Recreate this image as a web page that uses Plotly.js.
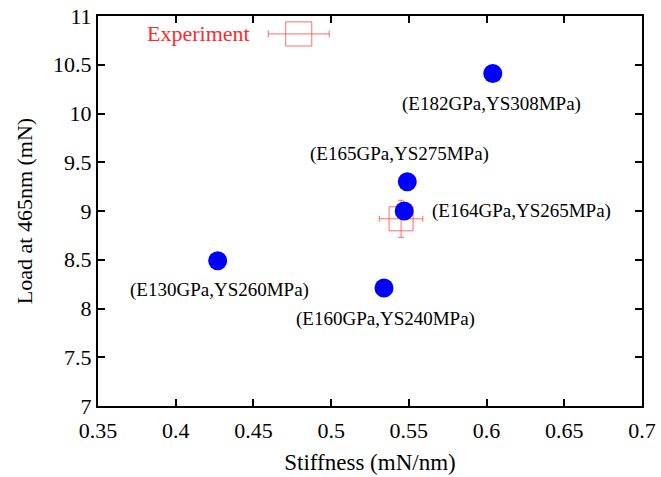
<!DOCTYPE html>
<html><head><meta charset="utf-8">
<script src="https://cdn.plot.ly/plotly-3.0.1.min.js"></script>
<style>html,body{margin:0;padding:0;background:#fff}#chart{width:661px;height:477px}</style>
</head><body><div id="chart"></div>
<script>
// Simulation results
const simLabels = ["(E182GPa,YS308MPa)","(E165GPa,YS275MPa)","(E164GPa,YS265MPa)","(E130GPa,YS260MPa)","(E160GPa,YS240MPa)"];
const simStiffness = [0.604, 0.549, 0.547, 0.427, 0.534];
const simLoad = [10.41, 9.30, 9.00, 8.49, 8.21];
// Experiment
const expStiffness = [0.545];
const expLoad = [8.92];
const expStiffErr = [0.014];
const expLoadErr = [0.19];
const expName = "Experiment";
const xTicks = [0.35,0.4,0.45,0.5,0.55,0.6,0.65,0.7];
const yTicks = [7,7.5,8,8.5,9,9.5,10,10.5,11];

// label placement (pixel offsets relative to point, anchors)
const labelPos = [
  {xs:-1, ys:-30, xa:"center"},
  {xs:-8, ys:28, xa:"center"},
  {xs:26, ys:0, xa:"left"},
  {xs:2, ys:-29, xa:"center"},
  {xs:2, ys:-31, xa:"center"}
];

const font = "Liberation Serif, Times New Roman, serif";
const red = "#ff2a2a";
const errCol = "rgba(255,60,60,0.75)";

const traces = [
  {
    x: expStiffness, y: expLoad, type: "scatter", mode: "markers", name: expName,
    marker: {symbol: "square-open", size: 24, color: errCol, line: {width: 1}},
    error_x: {type: "data", array: expStiffErr, visible: true, color: errCol, thickness: 1, width: 3},
    error_y: {type: "data", array: expLoadErr, visible: true, color: errCol, thickness: 1, width: 3},
    showlegend: false, cliponaxis: false
  },
  {
    x: simStiffness, y: simLoad, type: "scatter", mode: "markers", name: "Simulation",
    marker: {symbol: "circle", size: 19, color: "#0000ff"},
    showlegend: false, cliponaxis: false
  }
];

const annotations = simLabels.map((t, i) => ({
  x: simStiffness[i], y: simLoad[i], xref: "x", yref: "y", text: t, showarrow: false,
  xanchor: labelPos[i].xa, yanchor: "middle", xshift: labelPos[i].xs, yshift: labelPos[i].ys,
  font: {family: font, size: 19, color: "#000"}
}));
annotations.push({
  x: 0.284, y: 0.954, xref: "paper", yref: "paper", text: expName, showarrow: false,
  xanchor: "right", yanchor: "middle", font: {family: font, size: 22, color: red}
});

// legend key sample drawn as shapes in paper coordinates
const kx0 = 0.313, kx1 = 0.425, kc = 0.369, ky = 0.954;
const shapes = [
  {type: "rect", xref: "paper", yref: "paper", x0: kc - 0.024, x1: kc + 0.024, y0: ky - 0.031, y1: ky + 0.031, line: {color: errCol, width: 1}},
  {type: "line", xref: "paper", yref: "paper", x0: kx0, x1: kx1, y0: ky, y1: ky, line: {color: errCol, width: 1}},
  {type: "line", xref: "paper", yref: "paper", x0: kx0, x1: kx0, y0: ky - 0.009, y1: ky + 0.009, line: {color: errCol, width: 1}},
  {type: "line", xref: "paper", yref: "paper", x0: kx1, x1: kx1, y0: ky - 0.009, y1: ky + 0.009, line: {color: errCol, width: 1}}
];

const axisCommon = {
  showline: true, linecolor: "#000", linewidth: 2, mirror: "ticks",
  ticks: "inside", ticklen: 7, tickwidth: 2, tickcolor: "#000",
  showgrid: false, zeroline: false,
  tickfont: {family: font, size: 22, color: "#000"}
};

const layout = {
  width: 661, height: 477,
  margin: {l: 98, r: 19, t: 16, b: 71},
  paper_bgcolor: "#fff", plot_bgcolor: "#fff",
  xaxis: Object.assign({}, axisCommon, {
    range: [0.35, 0.7], tickvals: xTicks, ticktext: xTicks.map(String),
    ticklabelstandoff: 4,
    title: {text: "Stiffness (mN/nm)", font: {family: font, size: 23, color: "#000"}, standoff: 11}
  }),
  yaxis: Object.assign({}, axisCommon, {
    range: [7, 11], tickvals: yTicks, ticktext: yTicks.map(String),
    title: {text: "Load at 465nm (mN)", font: {family: font, size: 22, color: "#000"}, standoff: 14}
  }),
  annotations: annotations, shapes: shapes, showlegend: false
};

Plotly.newPlot("chart", traces, layout, {staticPlot: true, displayModeBar: false});
</script></body></html>
